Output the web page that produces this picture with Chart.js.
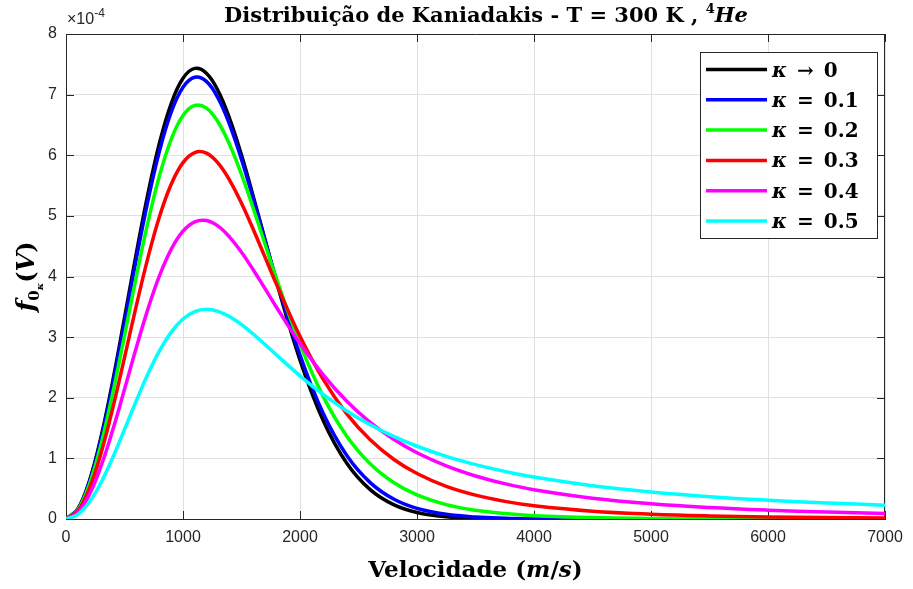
<!DOCTYPE html>
<html lang="pt">
<head>
    <meta charset="UTF-8">
    <title>Distribuição de Kaniadakis</title>
    <script src="https://cdn.jsdelivr.net/npm/chart.js"></script>
    <style>
        html, body { margin: 0; padding: 0; background: #fff; }
        .chart-container { width: 913px; height: 589px; position: relative; }
    </style>
</head>
<body>
    <div class="chart-container">
        <canvas id="kaniadakisChart"></canvas>
    </div>

    <script>
        // velocidades (m/s)
        const velocidades = [0, 100, 200, 300, 400, 500, 600, 700, 800, 900, 1000, 1100, 1200, 1300, 1400, 1500, 1600, 1700, 1800, 2000, 2200, 2400, 2600, 2800, 3000, 3250, 3500, 3750, 4000, 4500, 5000, 5500, 6000, 6500, 7000];

        // f0κ(V), em unidades de 1e-4
        const fKappa0 = [0, 0.161, 0.628, 1.358, 2.281, 3.317, 4.373, 5.362, 6.210, 6.858, 7.270, 7.433, 7.354, 7.064, 6.597, 6.002, 5.325, 4.614, 3.906, 2.621, 1.617, 0.920, 0.484, 0.236, 0.107, 0.036, 0.011, 0.003, 0.001, 0, 0, 0, 0, 0, 0];
        const fKappa01 = [0, 0.157, 0.615, 1.329, 2.233, 3.246, 4.280, 5.249, 6.079, 6.715, 7.121, 7.286, 7.218, 6.942, 6.498, 5.931, 5.287, 4.608, 3.934, 2.705, 1.735, 1.047, 0.600, 0.329, 0.175, 0.077, 0.033, 0.014, 0.006, 0.001, 0, 0, 0, 0, 0];
        const fKappa02 = [0, 0.147, 0.573, 1.238, 2.081, 3.026, 3.989, 4.894, 5.670, 6.267, 6.654, 6.822, 6.778, 6.548, 6.169, 5.683, 5.127, 4.541, 3.957, 2.884, 2.015, 1.366, 0.910, 0.601, 0.397, 0.237, 0.144, 0.089, 0.055, 0.023, 0.010, 0.005, 0.003, 0.001, 0.001];
        const fKappa03 = [0, 0.129, 0.504, 1.089, 1.831, 2.662, 3.510, 4.307, 4.993, 5.525, 5.878, 6.044, 6.034, 5.870, 5.582, 5.209, 4.779, 4.323, 3.867, 3.014, 2.298, 1.734, 1.306, 0.986, 0.750, 0.538, 0.393, 0.291, 0.219, 0.129, 0.080, 0.051, 0.034, 0.024, 0.017];
        const fKappa04 = [0, 0.104, 0.405, 0.875, 1.471, 2.139, 2.820, 3.462, 4.017, 4.452, 4.748, 4.902, 4.923, 4.830, 4.646, 4.400, 4.112, 3.803, 3.489, 2.893, 2.373, 1.943, 1.594, 1.315, 1.093, 0.876, 0.710, 0.583, 0.483, 0.343, 0.251, 0.189, 0.146, 0.115, 0.092];
        const fKappa05 = [0, 0.072, 0.279, 0.604, 1.015, 1.476, 1.946, 2.391, 2.777, 3.083, 3.299, 3.422, 3.460, 3.426, 3.336, 3.207, 3.051, 2.880, 2.704, 2.362, 2.051, 1.783, 1.554, 1.362, 1.200, 1.033, 0.897, 0.785, 0.692, 0.549, 0.446, 0.369, 0.311, 0.265, 0.228];

        const legendas = ['κ → 0', 'κ = 0.1', 'κ = 0.2', 'κ = 0.3', 'κ = 0.4', 'κ = 0.5'];
        const series = [fKappa0, fKappa01, fKappa02, fKappa03, fKappa04, fKappa05];
        const cores = ['#000000', '#0000ff', '#00ff00', '#ff0000', '#ff00ff', '#00ffff'];

        const SERIF = "'DejaVu Serif', 'Liberation Serif', serif";
        const SANS = "'Liberation Sans', Arial, sans-serif";
        const EIXO = '#262626';

        // escreve texto com partes de fontes diferentes
        function textoMisto(ctx, partes, x, y, alinhar) {
            let total = 0;
            partes.forEach(p => {
                ctx.font = p.font;
                p.w = ctx.measureText(p.t).width;
                total += p.w;
            });
            let cx = x;
            if (alinhar === 'center') cx = x - total / 2;
            partes.forEach(p => {
                ctx.font = p.font;
                ctx.fillText(p.t, cx, y + (p.dy || 0));
                cx += p.w;
            });
        }

        const moldura = {
            id: 'moldura',
            beforeDatasetsDraw(chart) {
                const ctx = chart.ctx;
                const a = chart.chartArea;
                const sx = chart.scales.x, sy = chart.scales.y;
                ctx.save();
                ctx.strokeStyle = EIXO;
                ctx.lineWidth = 1;
                ctx.beginPath();
                ctx.moveTo(a.left, a.top + 0.5);
                ctx.lineTo(a.right, a.top + 0.5);
                ctx.moveTo(a.right - 0.5, a.top);
                ctx.lineTo(a.right - 0.5, a.bottom);
                // marcas para dentro
                sx.ticks.forEach(t => {
                    const px = Math.round(sx.getPixelForValue(t.value)) + 0.5;
                    ctx.moveTo(px, a.bottom); ctx.lineTo(px, a.bottom - 8);
                    ctx.moveTo(px, a.top); ctx.lineTo(px, a.top + 8);
                });
                sy.ticks.forEach(t => {
                    const py = Math.round(sy.getPixelForValue(t.value)) + 0.5;
                    ctx.moveTo(a.left, py); ctx.lineTo(a.left + 8, py);
                    ctx.moveTo(a.right, py); ctx.lineTo(a.right - 8, py);
                });
                ctx.stroke();
                ctx.restore();
            },
            afterDraw(chart) {
                const ctx = chart.ctx;
                const a = chart.chartArea;
                ctx.save();
                ctx.textBaseline = 'alphabetic';

                // título
                ctx.fillStyle = '#000';
                textoMisto(ctx, [
                    { t: 'Distribuição de Kaniadakis - T = 300 K , ', font: 'bold 21px ' + SERIF },
                    { t: '4', font: 'bold 13px ' + SERIF, dy: -9 },
                    { t: 'He', font: 'italic bold 21px ' + SERIF }
                ], 486, 22, 'center');

                // multiplicador do eixo y
                ctx.fillStyle = EIXO;
                textoMisto(ctx, [
                    { t: '×10', font: '16px ' + SANS },
                    { t: '-4', font: '12px ' + SANS, dy: -7 }
                ], a.left + 1, 24, 'left');

                // título do eixo x
                ctx.fillStyle = '#000';
                textoMisto(ctx, [
                    { t: 'Velocidade (', font: 'bold 23px ' + SERIF },
                    { t: 'm', font: 'italic bold 23px ' + SERIF },
                    { t: '/', font: 'bold 23px ' + SERIF },
                    { t: 's', font: 'italic bold 23px ' + SERIF },
                    { t: ')', font: 'bold 23px ' + SERIF }
                ], (a.left + a.right) / 2, 577, 'center');

                // título do eixo y
                ctx.save();
                ctx.translate(34, (a.top + a.bottom) / 2);
                ctx.rotate(-Math.PI / 2);
                textoMisto(ctx, [
                    { t: 'f', font: 'italic bold 25px ' + SERIF },
                    { t: '0', font: 'bold 15px ' + SERIF, dy: 5 },
                    { t: 'κ', font: 'italic bold 10px ' + SERIF, dy: 9 },
                    { t: '(', font: 'bold 24px ' + SERIF },
                    { t: 'V', font: 'italic bold 24px ' + SERIF },
                    { t: ')', font: 'bold 24px ' + SERIF }
                ], 0, 0, 'center');
                ctx.restore();

                // legenda
                const bx = 700.5, by = 52.5, bw = 177, bh = 186;
                ctx.fillStyle = '#fff';
                ctx.fillRect(bx, by, bw, bh);
                ctx.strokeStyle = EIXO;
                ctx.lineWidth = 1;
                ctx.strokeRect(bx, by, bw, bh);
                chart.data.datasets.forEach((ds, i) => {
                    const yl = 69.5 + i * 30.3;
                    ctx.strokeStyle = ds.borderColor;
                    ctx.lineWidth = 3.5;
                    ctx.beginPath();
                    ctx.moveTo(706, yl);
                    ctx.lineTo(767, yl);
                    ctx.stroke();
                    ctx.fillStyle = '#000';
                    const resto = ds.label.slice(1).trim().split(' ');
                    textoMisto(ctx, [
                        { t: ds.label.charAt(0), font: 'italic bold 20px ' + SERIF },
                        { t: '\u2002' + resto[0] + '\u2002', font: 'bold 20px ' + SERIF },
                        { t: resto[1], font: 'bold 20px ' + SERIF }
                    ], 772, yl + 7, 'left');
                });
                ctx.restore();
            }
        };

        const ctx = document.getElementById('kaniadakisChart').getContext('2d');
        const grafico = new Chart(ctx, {
            type: 'line',
            data: {
                datasets: series.map((valores, i) => ({
                    label: legendas[i],
                    data: velocidades.map((v, j) => ({ x: v, y: valores[j] })),
                    borderColor: cores[i],
                    backgroundColor: cores[i],
                    borderWidth: 3.5,
                    pointRadius: 0,
                    fill: false,
                    tension: 0.4,
                    order: series.length - i
                }))
            },
            options: {
                responsive: true,
                maintainAspectRatio: false,
                animation: false,
                layout: { padding: { top: 34, right: 28, left: 0, bottom: 0 } },
                plugins: {
                    legend: { display: false },
                    tooltip: { enabled: false }
                },
                scales: {
                    x: {
                        type: 'linear',
                        min: 0,
                        max: 7000,
                        afterFit: s => { s.height = 70; },
                        ticks: {
                            stepSize: 1000,
                            color: EIXO,
                            padding: 9,
                            maxRotation: 0,
                            font: { family: SANS, size: 16 },
                            callback: v => String(v)
                        },
                        grid: { color: '#e0e0e0', drawTicks: false },
                        border: { color: EIXO }
                    },
                    y: {
                        min: 0,
                        max: 8,
                        afterFit: s => { s.width = 66; },
                        ticks: {
                            stepSize: 1,
                            color: EIXO,
                            padding: 9,
                            font: { family: SANS, size: 16 }
                        },
                        grid: { color: '#e0e0e0', drawTicks: false },
                        border: { color: EIXO }
                    }
                }
            },
            plugins: [moldura]
        });
    </script>
</body>
</html>
